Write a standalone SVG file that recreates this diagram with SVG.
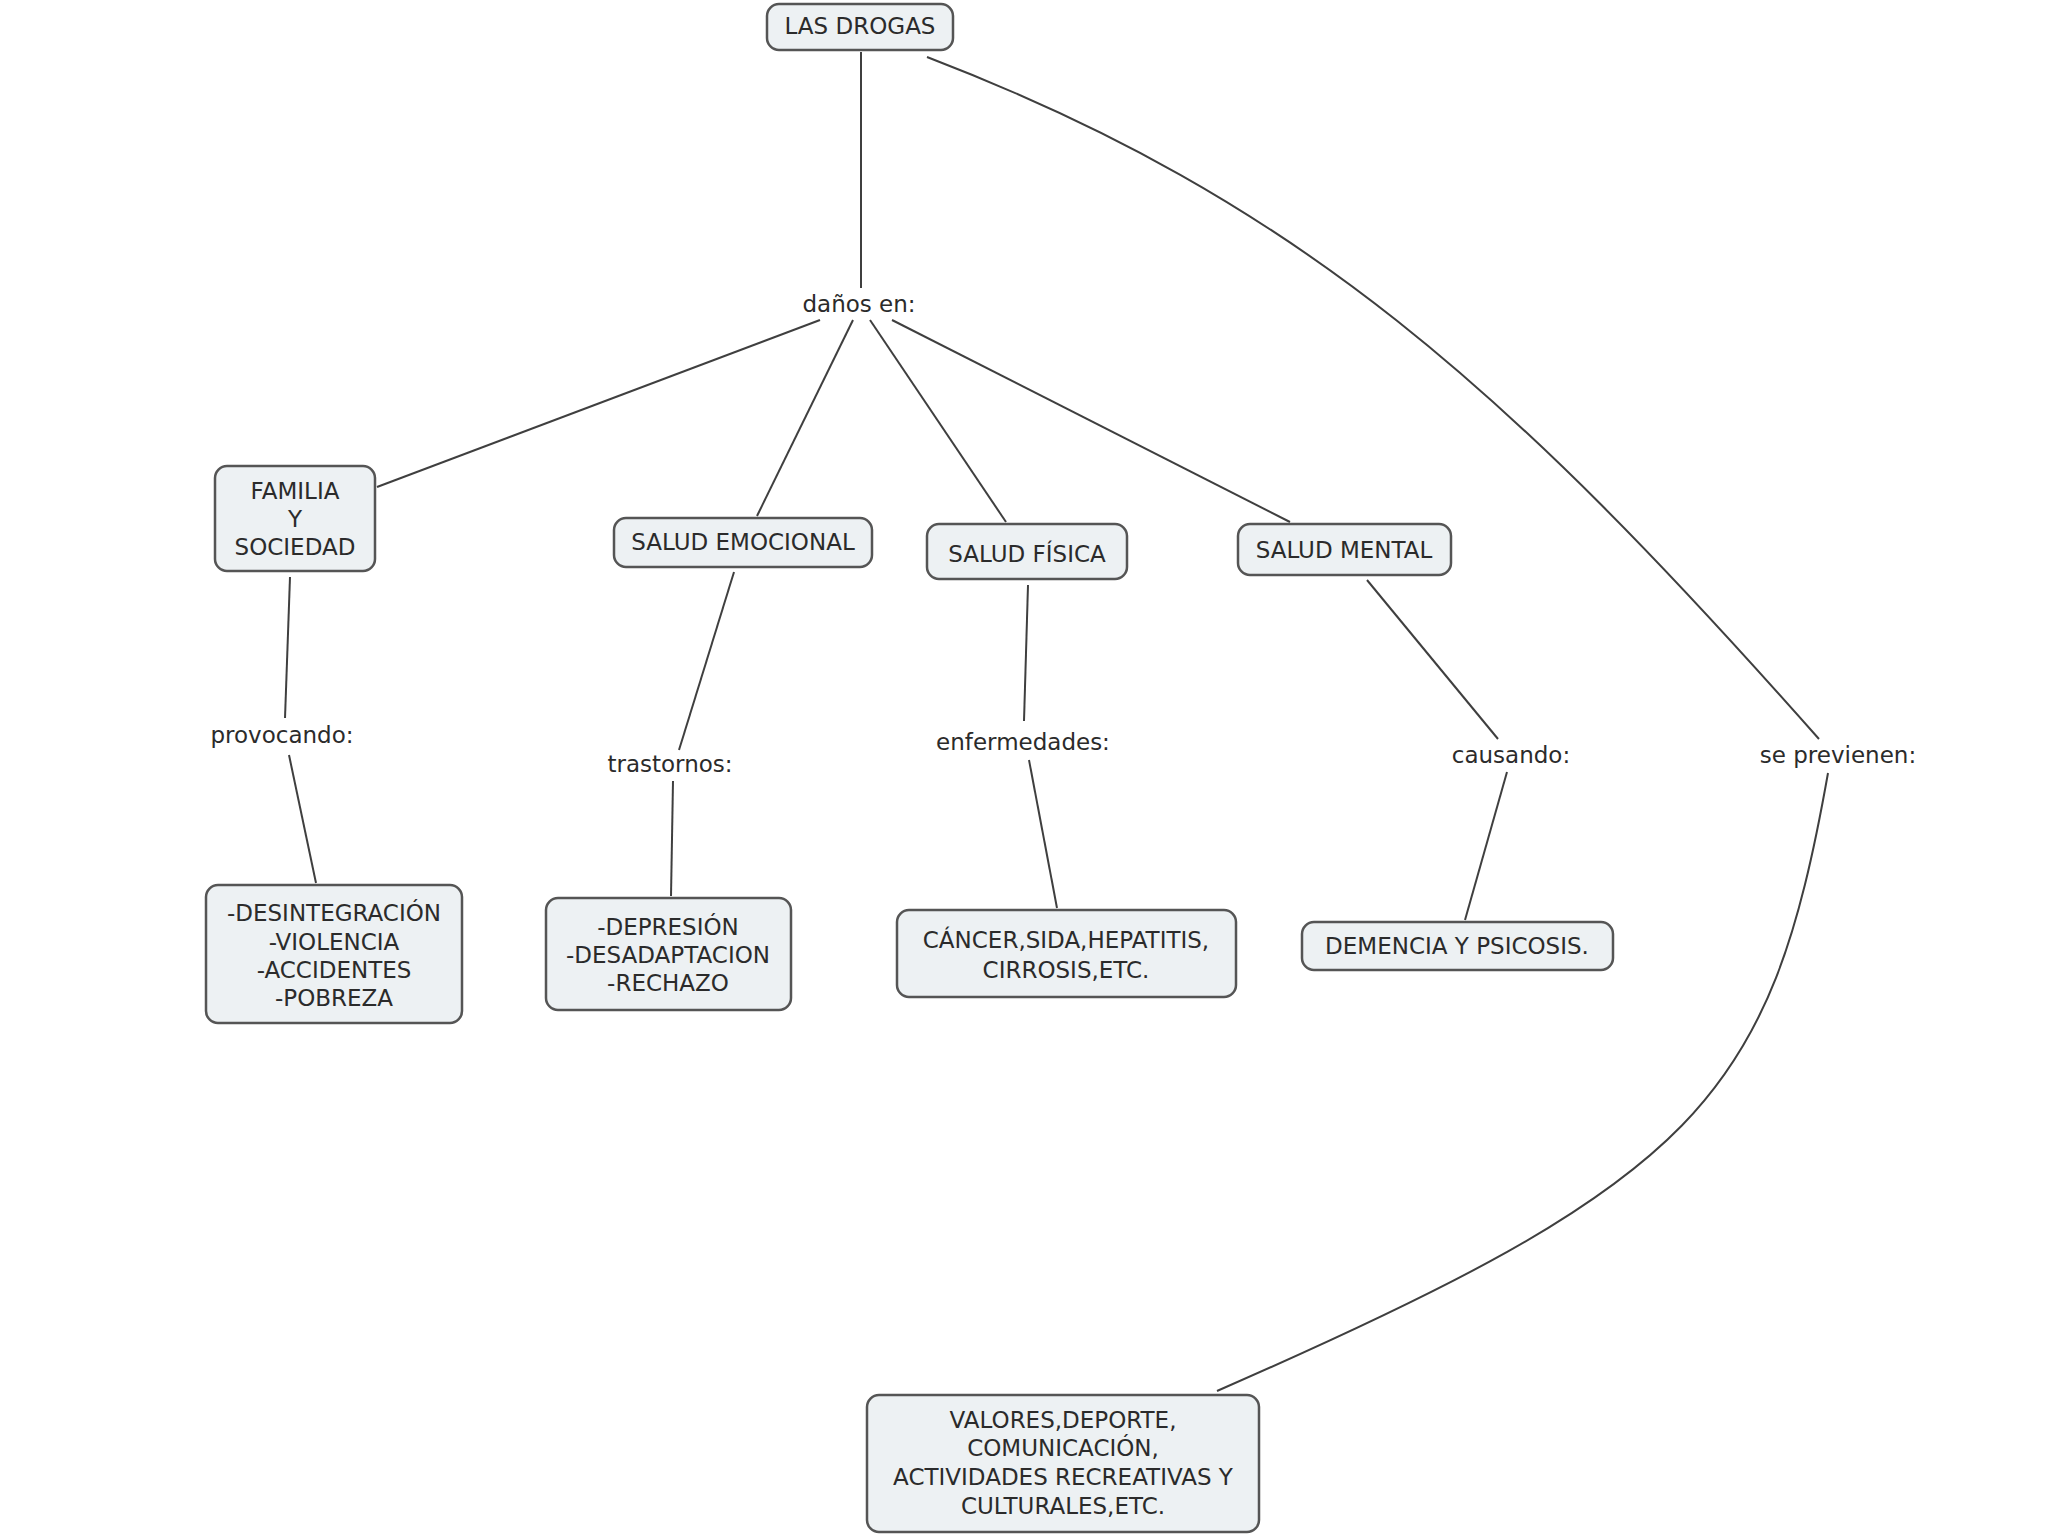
<svg xmlns="http://www.w3.org/2000/svg" width="2048" height="1536" viewBox="0 0 2048 1536">
<style>
.box{fill:#edf1f3;stroke:#555;stroke-width:2.5}
.t{font-family:"DejaVu Sans",Verdana,sans-serif;font-size:23px;fill:#2b2b2b;text-anchor:middle}
.c{fill:none;stroke:#3f3f3f;stroke-width:2}
</style>
<rect width="2048" height="1536" fill="#fff"/>
<g id="connectors">
<line class="c" x1="861" y1="52" x2="861" y2="288"/>
<line class="c" x1="820" y1="320" x2="377" y2="487"/>
<line class="c" x1="853" y1="320" x2="757" y2="516"/>
<line class="c" x1="870" y1="320" x2="1006" y2="522"/>
<line class="c" x1="892" y1="320" x2="1290" y2="522"/>
<line class="c" x1="290" y1="577" x2="285" y2="718"/>
<line class="c" x1="289" y1="755" x2="316" y2="883"/>
<line class="c" x1="734" y1="572" x2="679" y2="750"/>
<line class="c" x1="673" y1="781" x2="671" y2="896"/>
<line class="c" x1="1028" y1="585" x2="1024" y2="721"/>
<line class="c" x1="1029" y1="760" x2="1057" y2="908"/>
<line class="c" x1="1367" y1="580" x2="1498" y2="739"/>
<line class="c" x1="1507" y1="772" x2="1465" y2="920"/>
<path class="c" d="M927 57 C1300 200 1510 390 1819 739"/>
<path class="c" d="M1828 773 C1770 1100 1700 1180 1217 1391"/>
</g>
<g id="labels">
<text class="t" x="859" y="312">daños en:</text>
<text class="t" x="282" y="743">provocando:</text>
<text class="t" x="670" y="772">trastornos:</text>
<text class="t" x="1023" y="750">enfermedades:</text>
<text class="t" x="1511" y="763">causando:</text>
<text class="t" x="1838" y="763">se previenen:</text>
</g>
<g id="n-drogas"><rect class="box" x="767" y="4" width="186" height="46" rx="12"/><text class="t" x="860" y="34">LAS DROGAS</text></g>
<g id="n-familia"><rect class="box" x="215" y="466" width="160" height="105" rx="12"/>
<text class="t" x="295" y="499">FAMILIA</text><text class="t" x="295" y="527">Y</text><text class="t" x="295" y="555">SOCIEDAD</text></g>
<g id="n-emocional"><rect class="box" x="614" y="518" width="258" height="49" rx="12"/><text class="t" x="743" y="550">SALUD EMOCIONAL</text></g>
<g id="n-fisica"><rect class="box" x="927" y="524" width="200" height="55" rx="12"/><text class="t" x="1027" y="562">SALUD FÍSICA</text></g>
<g id="n-mental"><rect class="box" x="1238" y="524" width="213" height="51" rx="12"/><text class="t" x="1344" y="558">SALUD MENTAL</text></g>
<g id="n-desintegracion"><rect class="box" x="206" y="885" width="256" height="138" rx="12"/>
<text class="t" x="334" y="921">-DESINTEGRACIÓN</text><text class="t" x="334" y="950">-VIOLENCIA</text><text class="t" x="334" y="978">-ACCIDENTES</text><text class="t" x="334" y="1006">-POBREZA</text></g>
<g id="n-depresion"><rect class="box" x="546" y="898" width="245" height="112" rx="12"/>
<text class="t" x="668" y="935">-DEPRESIÓN</text><text class="t" x="668" y="963">-DESADAPTACION</text><text class="t" x="668" y="991">-RECHAZO</text></g>
<g id="n-cancer"><rect class="box" x="897" y="910" width="339" height="87" rx="12"/>
<text class="t" x="1066" y="948">CÁNCER,SIDA,HEPATITIS,</text><text class="t" x="1066" y="978">CIRROSIS,ETC.</text></g>
<g id="n-demencia"><rect class="box" x="1302" y="922" width="311" height="48" rx="12"/><text class="t" x="1457" y="954">DEMENCIA Y PSICOSIS.</text></g>
<g id="n-valores"><rect class="box" x="867" y="1395" width="392" height="137" rx="12"/>
<text class="t" x="1063" y="1428">VALORES,DEPORTE,</text><text class="t" x="1063" y="1456">COMUNICACIÓN,</text><text class="t" x="1063" y="1485">ACTIVIDADES RECREATIVAS Y</text><text class="t" x="1063" y="1514">CULTURALES,ETC.</text></g>
</svg>
